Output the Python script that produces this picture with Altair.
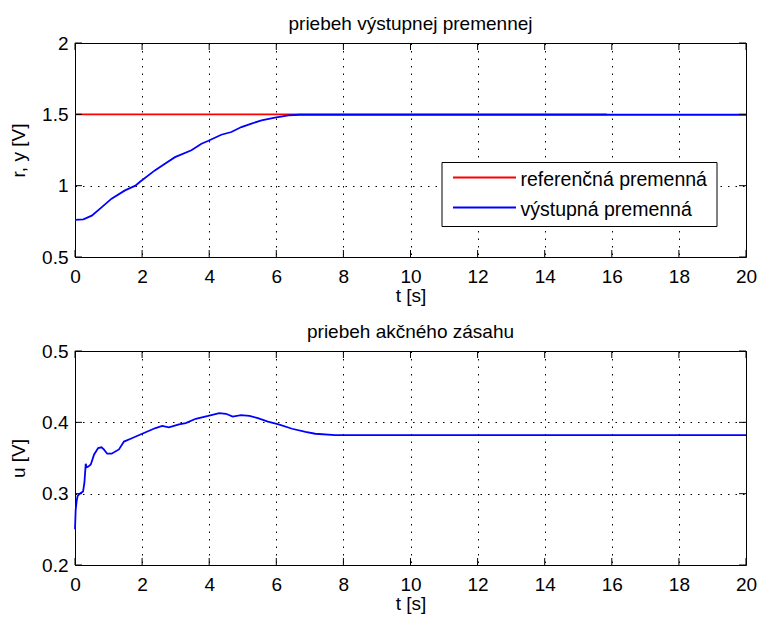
import altair as alt
import pandas as pd

# ---- data ----
t_out = [0, 0.25, 0.5, 0.8, 1.09, 1.49, 1.8, 1.93, 2.38, 2.68, 2.98, 3.47, 3.77, 3.96,
         4.36, 4.66, 4.96, 5.26, 5.56, 5.96, 6.36, 6.7, 7.5, 20]
y_out = [0.76, 0.764, 0.79, 0.85, 0.909, 0.967, 1.0, 1.026, 1.107, 1.154, 1.2, 1.248, 1.294, 1.313,
         1.357, 1.376, 1.411, 1.435, 1.458, 1.477, 1.493, 1.497, 1.497, 1.497]

t_ref = [0, 15.85]
r_ref = [1.5, 1.5]

t_u = [0, 0.02, 0.05, 0.08, 0.14, 0.24, 0.28, 0.32, 0.35, 0.4, 0.47, 0.57, 0.69, 0.79, 0.86,
       0.96, 1.09, 1.31, 1.46, 1.66, 1.95, 2.4, 2.6, 2.8, 3.1, 3.3, 3.6, 3.97, 4.3, 4.5, 4.7,
       4.95, 5.2, 5.45, 5.75, 6.07, 6.47, 6.87, 7.16, 7.76, 8.0, 20]
u_act = [0.25, 0.277, 0.29, 0.297, 0.3, 0.303, 0.315, 0.342, 0.337, 0.338, 0.341, 0.355, 0.364,
         0.365, 0.362, 0.356, 0.356, 0.362, 0.373, 0.377, 0.383, 0.392, 0.395, 0.393, 0.397,
         0.399, 0.405, 0.409, 0.413, 0.412, 0.408, 0.41, 0.409, 0.406, 0.401, 0.397, 0.391,
         0.3865, 0.384, 0.382, 0.382, 0.382]

x_ticks = [0, 2, 4, 6, 8, 10, 12, 14, 16, 18, 20]
y1_ticks = [0.5, 1, 1.5, 2]
y2_ticks = [0.2, 0.3, 0.4, 0.5]

titles = ["priebeh výstupnej premennej", "priebeh akčného zásahu"]
x_title = "t [s]"
y_titles = ["r, y [V]", "u [V]"]
leg_names = ["referenčná premenná", "výstupná premenná"]
colors = ["#ff0000", "#0000ff"]

# ---- styling ----
W, H = 671, 214
FONT = "Liberation Sans"
FS = 19
TICK = 7
LW = 1.8


def x_enc():
    ax = alt.Axis(values=x_ticks, format="~g", grid=True, gridDash=[1.5, 6], gridColor="black",
                  gridOpacity=1, gridWidth=1, domain=False, ticks=False, labelFont=FONT,
                  labelFontSize=FS, labelColor="black", labelPadding=10, labelFlush=False,
                  labelOverlap=False, title=x_title, titleFont=FONT, titleFontSize=FS,
                  titleFontWeight="normal", titleColor="black", titlePadding=0)
    return alt.X("t:Q", scale=alt.Scale(domain=[0, 20], nice=False, zero=False), axis=ax)


def y_enc(ticks, title):
    ax = alt.Axis(values=ticks, format="~g", grid=True, gridDash=[1.5, 6], gridColor="black",
                  gridOpacity=1, gridWidth=1, domain=False, ticks=False, labelFont=FONT,
                  labelFontSize=FS, labelColor="black", labelPadding=7, labelFlush=False,
                  labelOverlap=False, title=title, titleFont=FONT, titleFontSize=FS,
                  titleFontWeight="normal", titleColor="black", titlePadding=13)
    return alt.Y("v:Q", scale=alt.Scale(domain=[ticks[0], ticks[-1]], nice=False, zero=False), axis=ax)


def tick_layers(yticks, ytitle):
    xt = pd.DataFrame({"t": x_ticks})
    yt = pd.DataFrame({"v": yticks})
    xe = x_enc()
    ye = y_enc(yticks, ytitle)
    return [
        alt.Chart(xt).mark_rule(color="black", strokeWidth=1).encode(x=xe, y=alt.value(H), y2=alt.value(H - TICK)),
        alt.Chart(xt).mark_rule(color="black", strokeWidth=1).encode(x=xe, y=alt.value(0), y2=alt.value(TICK)),
        alt.Chart(yt).mark_rule(color="black", strokeWidth=1).encode(y=ye, x=alt.value(0), x2=alt.value(TICK)),
        alt.Chart(yt).mark_rule(color="black", strokeWidth=1).encode(y=ye, x=alt.value(W), x2=alt.value(W - TICK)),
    ]


def title_params(text):
    return alt.TitleParams(text=text, font=FONT, fontSize=FS, fontWeight="normal", color="black",
                           anchor="middle", offset=0)


# ---- top panel ----
df_ref = pd.DataFrame({"t": t_ref, "v": r_ref})
df_out = pd.DataFrame({"t": t_out, "v": y_out})

ref_line = alt.Chart(df_ref).mark_line(color=colors[0], strokeWidth=LW).encode(
    x=x_enc(), y=y_enc(y1_ticks, y_titles[0]))
out_line = alt.Chart(df_out).mark_line(color=colors[1], strokeWidth=LW).encode(
    x=x_enc(), y=y_enc(y1_ticks, y_titles[0]))

# legend (drawn inside the top panel, like the original)
LX1, LX2, LY1, LY2 = 367, 642, 119.5, 183.5
legend_layers = [
    alt.Chart(alt.Data(values=[{}])).mark_rect(fill="white", stroke="black", strokeWidth=1).encode(
        x=alt.value(LX1), x2=alt.value(LX2), y=alt.value(LY1), y2=alt.value(LY2))
]
for i, (name, col) in enumerate(zip(leg_names, colors)):
    ry = 134.5 + 30 * i
    legend_layers.append(
        alt.Chart(alt.Data(values=[{}])).mark_rule(color=col, strokeWidth=LW).encode(
            x=alt.value(378), x2=alt.value(441), y=alt.value(ry)))
    legend_layers.append(
        alt.Chart(pd.DataFrame({"name": [name]})).mark_text(
            align="left", baseline="middle", font=FONT, fontSize=19.5, color="black").encode(
            x=alt.value(445.5), y=alt.value(ry + 2), text="name:N"))

top = alt.layer(ref_line, out_line, *tick_layers(y1_ticks, y_titles[0]), *legend_layers).properties(
    width=W, height=H, title=title_params(titles[0]))

# ---- bottom panel ----
df_u = pd.DataFrame({"t": t_u, "v": u_act})
u_line = alt.Chart(df_u).mark_line(color=colors[1], strokeWidth=LW).encode(
    x=x_enc(), y=y_enc(y2_ticks, y_titles[1]))

bottom = alt.layer(u_line, *tick_layers(y2_ticks, y_titles[1])).properties(
    width=W, height=H, title=title_params(titles[1]))

chart = alt.vconcat(top, bottom, spacing=16).properties(
    padding={"left": 9, "top": 14, "right": 0, "bottom": 0},
    background="white",
).configure_view(stroke="black", strokeWidth=1)

chart.save("out.html", embed_options={"renderer": "svg", "actions": False})
